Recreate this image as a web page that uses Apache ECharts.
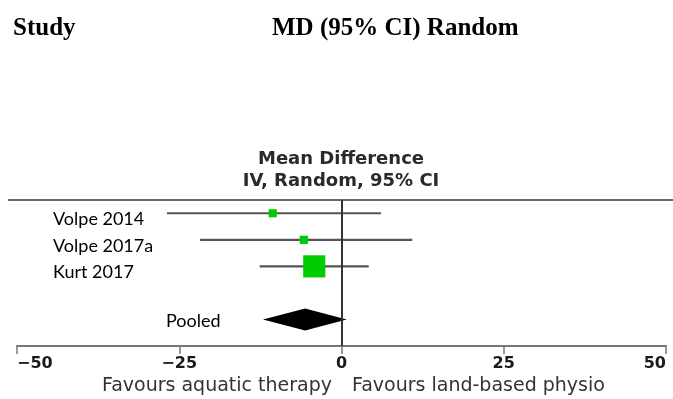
<!DOCTYPE html>
<html><head><meta charset="utf-8">
<script src="https://cdn.jsdelivr.net/npm/echarts@6/dist/echarts.min.js"></script>
<style>html,body{margin:0;padding:0;background:#fff}#c{width:673px;height:399px}</style>
</head><body><div id="c"></div>
<script>
// ---- data ----
const studies = ['Volpe 2014', 'Volpe 2017a', 'Kurt 2017'];
const studyRows = [0, 1, 2];
const md = [-10.6, -5.8, -4.2];
const ciLow = [-26.9, -21.8, -12.6];
const ciHigh = [6.1, 10.9, 4.2];
const weights = [10.6, 10.9, 78.5];
const pooledLabel = 'Pooled';
const pooledRow = 4;
const pooledMd = -5.6;
const pooledLow = -12.1;
const pooledHigh = 0.8;
const xTicks = [-50, -25, 0, 25, 50];
const tickLabels = ['−50', '−25', '0', '25', '50'];
const headers = ['Study', 'MD (95% CI) Random'];
const axisTitle = ['Mean Difference', 'IV, Random, 95% CI'];
const favours = ['Favours aquatic therapy', 'Favours land-based physio'];

// ---- chart ----
const chart = echarts.init(document.getElementById('c'), null, {renderer: 'canvas'});
const SANS = '"DejaVu Sans", sans-serif';
const studyData = studies.map((n, i) => [studyRows[i], md[i], ciLow[i], ciHigh[i], weights[i]]);

const option = {
  animation: false,
  backgroundColor: '#fff',
  grid: {left: 17, right: 7, top: 200, bottom: 53},
  xAxis: {
    type: 'value', min: xTicks[0], max: xTicks[xTicks.length - 1], interval: 25,
    position: 'bottom',
    splitLine: {show: false},
    axisLine: {show: true, onZero: false, lineStyle: {color: '#777', width: 2}},
    axisTick: {show: true, inside: false, length: 8, lineStyle: {color: '#777', width: 1.5}},
    axisLabel: {
      margin: 10, fontFamily: SANS, fontWeight: 'bold', fontSize: 16, color: '#1a1a1a',
      alignMinLabel: 'left', alignMaxLabel: 'right',
      formatter: v => tickLabels[xTicks.indexOf(v)] ?? ''
    }
  },
  yAxis: {type: 'value', inverse: true, min: -0.5, max: 5, show: false},
  series: [
    {
      type: 'custom', name: 'studies', data: studyData,
      encode: {x: [1, 2, 3], y: 0},
      renderItem: (params, api) => {
        const y = api.value(0);
        const pE = api.coord([api.value(1), y]);
        const pL = api.coord([api.value(2), y]);
        const pH = api.coord([api.value(3), y]);
        const s = 25 * Math.sqrt(api.value(4) / 100);
        return {type: 'group', children: [
          {type: 'line', shape: {x1: pL[0], y1: pL[1], x2: pH[0], y2: pH[1]},
           style: {stroke: '#555', lineWidth: 2.2}},
          {type: 'rect', shape: {x: pE[0] - s / 2, y: pE[1] - s / 2, width: s, height: s},
           style: {fill: '#00cc00'}},
          {type: 'text', x: 53, y: pE[1] + 6,
           style: {text: studies[params.dataIndex], fill: '#000', fontFamily: 'Lato, sans-serif',
                   fontSize: 18, verticalAlign: 'middle', align: 'left'}}
        ]};
      },
      markLine: {
        silent: true, symbol: 'none', label: {show: false},
        lineStyle: {color: '#333', width: 2, type: 'solid'},
        data: [{xAxis: 0}]
      },
      z: 3
    },
    {
      type: 'custom', name: 'pooled', data: [[pooledRow, pooledMd, pooledLow, pooledHigh]],
      encode: {x: [1, 2, 3], y: 0},
      renderItem: (params, api) => {
        const y = api.value(0);
        const pE = api.coord([api.value(1), y]);
        const pL = api.coord([api.value(2), y]);
        const pH = api.coord([api.value(3), y]);
        const h = 11;
        return {type: 'group', children: [
          {type: 'polygon', shape: {points: [[pL[0], pL[1]], [pE[0], pE[1] - h], [pH[0], pH[1]], [pE[0], pE[1] + h]]},
           style: {fill: '#000'}},
          {type: 'text', x: 166, y: pE[1] + 2,
           style: {text: pooledLabel, fill: '#000', fontFamily: 'Lato, sans-serif',
                   fontSize: 18, verticalAlign: 'middle', align: 'left'}}
        ]};
      },
      z: 2
    }
  ],
  graphic: [
    {type: 'line', shape: {x1: 8, y1: 200, x2: 673, y2: 200}, style: {stroke: '#666', lineWidth: 2}},
    {type: 'text', x: 13, y: 29, style: {text: headers[0], font: 'bold 25px "Liberation Serif", serif', fill: '#000', verticalAlign: 'middle'}},
    {type: 'text', x: 272, y: 29, style: {text: headers[1], font: 'bold 25px "Liberation Serif", serif', fill: '#000', verticalAlign: 'middle'}},
    {type: 'text', x: 341, y: 159, style: {text: axisTitle[0], font: 'bold 18px "DejaVu Sans", sans-serif', fill: '#2a2a2a', align: 'center', verticalAlign: 'middle'}},
    {type: 'text', x: 341, y: 181, style: {text: axisTitle[1], font: 'bold 18px "DejaVu Sans", sans-serif', fill: '#2a2a2a', align: 'center', verticalAlign: 'middle'}},
    {type: 'text', x: 332, y: 386, style: {text: favours[0], font: '19px "DejaVu Sans", sans-serif', fill: '#333', align: 'right', verticalAlign: 'middle'}},
    {type: 'text', x: 352, y: 386, style: {text: favours[1], font: '19px "DejaVu Sans", sans-serif', fill: '#333', align: 'left', verticalAlign: 'middle'}}
  ]
};
chart.setOption(option);
</script>
</body></html>
